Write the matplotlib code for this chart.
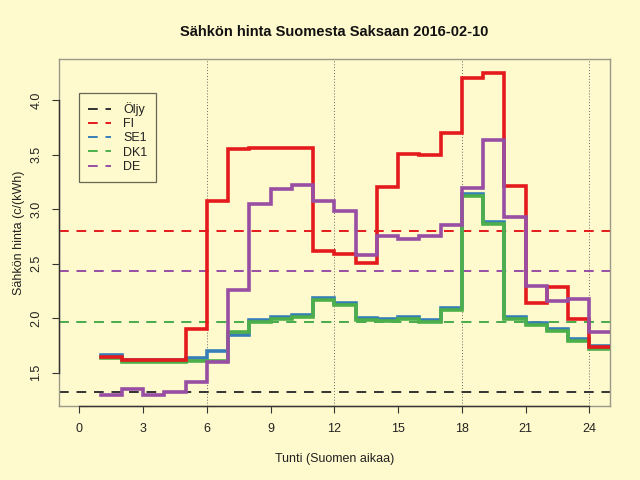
import numpy as np
import matplotlib
matplotlib.use('Agg')
import matplotlib.pyplot as plt

plt.rcParams['font.family'] = ['Liberation Sans', 'DejaVu Sans']

# hourly prices c/kWh, hour 1..24 (step starts at hour)
hours = np.arange(1, 25)
fi = [1.643, 1.613, 1.613, 1.613, 1.903, 3.074, 3.555, 3.560, 3.567, 3.560,
      2.613, 2.585, 2.506, 3.203, 3.503, 3.500, 3.700, 4.203, 4.255, 3.209,
      2.142, 2.285, 1.995, 1.735]
se1 = [1.659, 1.619, 1.619, 1.619, 1.634, 1.695, 1.842, 1.986, 2.010, 2.026,
       2.188, 2.139, 2.001, 1.989, 2.010, 1.986, 2.096, 3.142, 2.882, 2.010,
       1.955, 1.903, 1.812, 1.741]
dk1 = [1.637, 1.597, 1.597, 1.597, 1.603, 1.610, 1.873, 1.964, 1.995, 2.010,
       2.170, 2.117, 1.986, 1.971, 1.995, 1.964, 2.078, 3.118, 2.867, 1.995,
       1.940, 1.879, 1.790, 1.720]
de = [1.298, 1.353, 1.298, 1.322, 1.414, 1.597, 2.261, 3.044, 3.190, 3.224,
      3.078, 2.980, 2.582, 2.757, 2.729, 2.757, 2.851, 3.194, 3.640, 2.928,
      2.295, 2.157, 2.179, 1.873]

# daily averages (dashed lines)
oil_mean = 1.317
fi_mean = 2.796
se1_mean = 1.966
dk1_mean = 1.964
de_mean = 2.430

colors = {'Öljy': '#333333', 'FI': '#E41A1C', 'SE1': '#377EB8',
          'DK1': '#4DAF4A', 'DE': '#984EA3'}
bg = '#FFFACD'

fig = plt.figure(figsize=(6.4, 4.8), dpi=100, facecolor=bg)
ax = fig.add_axes([59 / 640, 1 - 406.3 / 480, 550.7 / 640, 347.3 / 480])
ax.set_facecolor(bg)

ax.set_xlim(-0.96, 24.96)
ax.set_ylim(1.19, 4.38)

for h in [6, 12, 18, 24]:
    ax.axvline(h, color='#666666', lw=0.7, ls=(0, (1, 2)), zorder=1)

dash = (0, (5, 4))
ax.axhline(oil_mean, color=colors['Öljy'], lw=1.4, ls=dash, label='Öljy', zorder=2)
ax.axhline(fi_mean, color=colors['FI'], lw=1.4, ls=dash, label='FI', zorder=2)
ax.axhline(se1_mean, color=colors['SE1'], lw=1.4, ls=dash, label='SE1', zorder=2)
ax.axhline(dk1_mean, color=colors['DK1'], lw=1.4, ls=dash, label='DK1', zorder=2)
ax.axhline(de_mean, color=colors['DE'], lw=1.4, ls=dash, label='DE', zorder=2)

xs = np.append(hours, 25)
for name, vals in [('SE1', se1), ('DK1', dk1), ('FI', fi), ('DE', de)]:
    ys = np.append(vals, vals[-1])
    ax.step(xs, ys, where='post', color=colors[name], lw=2.6, zorder=3,
            solid_joinstyle='miter')

ax.set_xticks(range(0, 25, 3))
ax.set_yticks([1.5, 2.0, 2.5, 3.0, 3.5, 4.0])
ax.set_yticklabels(['1.5', '2.0', '2.5', '3.0', '3.5', '4.0'], rotation=90,
                   va='center')
ax.tick_params(direction='out', length=5, width=0.8, color='#333333',
               labelsize=9, pad=7, labelcolor='#222222')

for s in ax.spines.values():
    s.set_color('#999988')
    s.set_linewidth(1.0)

# R style axis lines between first and last tick
ax.plot([0, 24], [0, 0], color='#333333', lw=1.0, transform=ax.get_xaxis_transform(),
        clip_on=False, zorder=5)
ax.plot([0, 0], [1.5, 4.0], color='#333333', lw=1.0, transform=ax.get_yaxis_transform(),
        clip_on=False, zorder=5)

ax.set_xlabel('Tunti (Suomen aikaa)', fontsize=9, labelpad=13, color='#222222')
ax.set_ylabel('Sähkön hinta (c/(kWh)', fontsize=9, labelpad=4, color='#222222')
fig.text((59 + 609.7) / 2 / 640, 1 - 32 / 480, 'Sähkön hinta Suomesta Saksaan 2016-02-10',
         ha='center', va='center', fontsize=10.5, fontweight='bold', color='#111111')

leg = ax.legend(loc='upper left', bbox_to_anchor=(79.3 / 640, 1 - 93.3 / 480),
                bbox_transform=fig.transFigure, fontsize=9, frameon=True,
                fancybox=False, edgecolor='#666655', facecolor=bg, framealpha=1,
                handlelength=1.8, handletextpad=1.0, labelspacing=0.18,
                borderpad=0.7, borderaxespad=0)
leg.get_frame().set_linewidth(0.9)
for t in leg.get_texts():
    t.set_color('#222222')

fig.savefig('out.png', dpi=100, facecolor=bg)
